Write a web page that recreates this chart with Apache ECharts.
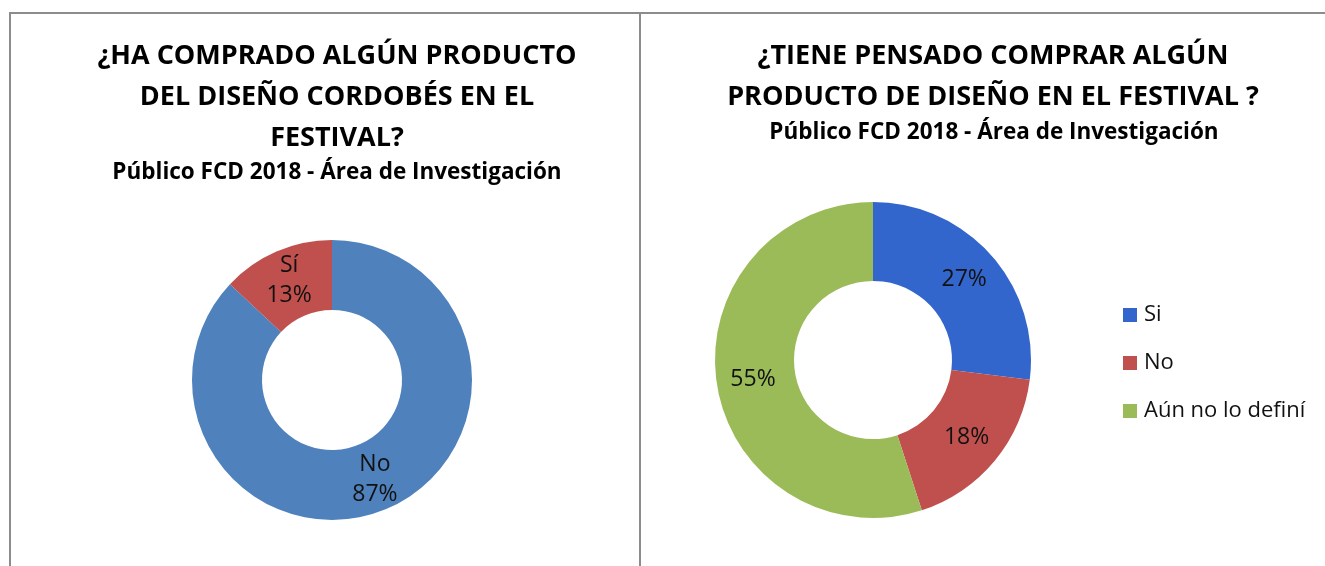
<!DOCTYPE html>
<html>
<head>
<meta charset="utf-8">
<script src="https://cdn.jsdelivr.net/npm/echarts@6/dist/echarts.min.js"></script>
<style>
  body { margin: 0; background: #fff; }
  #wrap { position: relative; width: 1325px; height: 566px; overflow: hidden; }
  .chart { position: absolute; top: 0; height: 566px; }
  .line { position: absolute; background: #8c8c8c; }
</style>
</head>
<body>
<div id="wrap">
  <div class="chart" id="left" style="left:0;width:640px;"></div>
  <div class="chart" id="right" style="left:641px;width:684px;"></div>
  <div class="line" style="left:9px;top:12px;width:1316px;height:2px;"></div>
  <div class="line" style="left:9px;top:12px;width:2px;height:554px;"></div>
  <div class="line" style="left:639px;top:12px;width:2px;height:554px;"></div>
</div>
<script>
// data
var leftTitle = '¿HA COMPRADO ALGÚN PRODUCTO\nDEL DISEÑO CORDOBÉS EN EL\nFESTIVAL?';
var rightTitle = '¿TIENE PENSADO COMPRAR ALGÚN\nPRODUCTO DE DISEÑO EN EL FESTIVAL ?';
var subTitle = 'Público FCD 2018 - Área de Investigación';

var leftNames = ['No', 'Sí'];
var leftValues = [87, 13];
var leftColors = ['#4F81BD', '#C0504D'];

var rightNames = ['Si', 'No', 'Aún no lo definí'];
var rightValues = [27, 18, 55];
var rightColors = ['#3366CC', '#C0504D', '#9BBB59'];

var font = '"Open Sans", sans-serif';

function toData(names, values) {
    return names.map(function (n, i) { return { name: n, value: values[i] }; });
}

//left chart
var left = echarts.init(document.getElementById('left'));
left.setOption({
    animation: false,
    title: [
        {
            text: leftTitle,
            left: 332,
            top: 31,
            textAlign: 'center',
            textStyle: {
                fontFamily: font,
                fontWeight: 'bold',
                fontSize: 27,
                lineHeight: 41,
                color: '#000'
            }
        },
        {
            text: subTitle,
            left: 332,
            top: 154,
            textAlign: 'center',
            textStyle: {
                fontFamily: font,
                fontWeight: 'bold',
                fontSize: 22.5,
                lineHeight: 28,
                color: '#000'
            }
        }
    ],
    color: leftColors,
    series: [
        {
            type: 'pie',
            center: [332, 380],
            radius: [70, 140],
            startAngle: 90,
            data: toData(leftNames, leftValues),
            label: {
                position: 'inside',
                formatter: '{b}\n{d}%',
                fontFamily: font,
                fontSize: 23,
                lineHeight: 30,
                color: '#111'
            },
            labelLine: { show: false }
        }
    ]
});

//right chart
var right = echarts.init(document.getElementById('right'));
right.setOption({
    animation: false,
    title: [
        {
            text: rightTitle,
            left: 347,
            top: 31,
            textAlign: 'center',
            textStyle: {
                fontFamily: font,
                fontWeight: 'bold',
                fontSize: 27,
                lineHeight: 41,
                color: '#000'
            }
        },
        {
            text: subTitle,
            left: 348,
            top: 114,
            textAlign: 'center',
            textStyle: {
                fontFamily: font,
                fontWeight: 'bold',
                fontSize: 22.5,
                lineHeight: 28,
                color: '#000'
            }
        }
    ],
    color: rightColors,
    legend: {
        orient: 'vertical',
        left: 477,
        top: 299,
        icon: 'rect',
        itemWidth: 14,
        itemHeight: 14,
        itemGap: 26,
        data: rightNames,
        textStyle: {
            fontFamily: font,
            fontSize: 22,
            color: '#111',
            padding: [0, 0, 0, 2]
        }
    },
    series: [
        {
            type: 'pie',
            center: [232, 360],
            radius: [79, 158],
            startAngle: 90,
            data: toData(rightNames, rightValues),
            label: {
                position: 'inside',
                formatter: '{d}%',
                fontFamily: font,
                fontSize: 23,
                color: '#111'
            },
            labelLine: { show: false }
        }
    ]
});

window.addEventListener('resize', function () {
    left.resize();
    right.resize();
});
</script>
</body>
</html>
